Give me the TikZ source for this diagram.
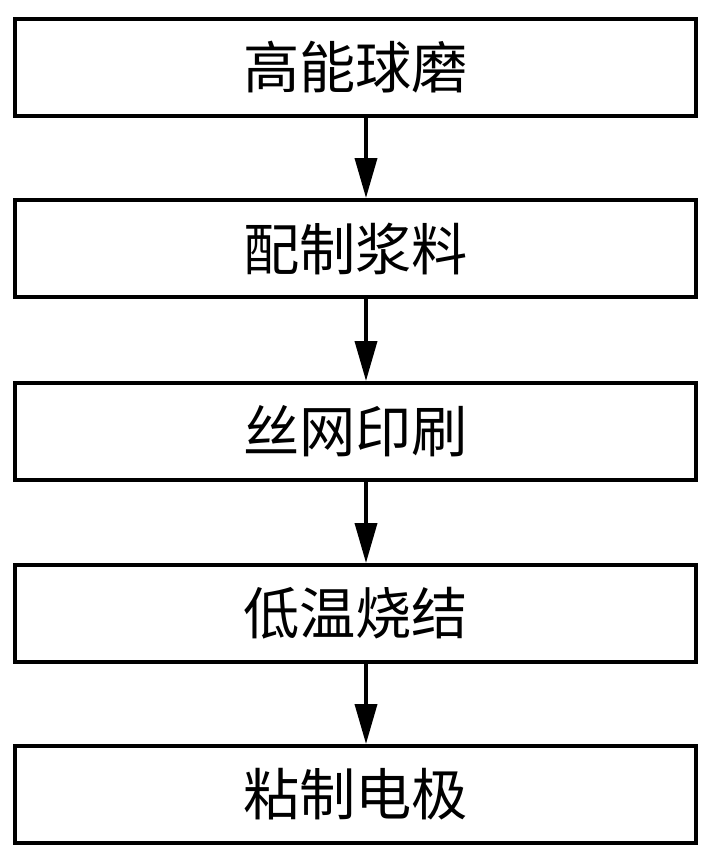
\documentclass[tikz,border=0pt]{standalone}
\usepackage{fontspec}
\newfontfamily\cjk{Noto Sans CJK SC}
\usetikzlibrary{arrows.meta}

\begin{document}
\begin{tikzpicture}[x=0.03cm, y=-0.03cm]
				\useasboundingbox (0,0) rectangle (706,855);
				\begin{scope}[every node/.style={draw, rectangle, line width=3.4pt, minimum width=681*0.03cm, minimum height=97*0.03cm, inner sep=0pt, font=\cjk\fontsize{48}{50}\selectfont}]
					\node (mill) at (355.5,67.5) {高能球磨};
					\node (slurry) at (355.5,248.5) {配制浆料};
					\node (print) at (355.5,431.5) {丝网印刷};
					\node (sinter) at (355.5,613.5) {低温烧结};
					\node (electrode) at (355.5,794.5) {粘制电极};
				\end{scope}
				\coordinate (ax) at (366,0);
				\begin{scope}[every edge/.style={draw, line width=3.2pt}]
					\path [-{Triangle[length=1.2cm, width=0.66cm]}] (mill.south -| ax) edge node {} (slurry.north -| ax);
					\path [-{Triangle[length=1.2cm, width=0.66cm]}] (slurry.south -| ax) edge node {} (print.north -| ax);
					\path [-{Triangle[length=1.2cm, width=0.66cm]}] (print.south -| ax) edge node {} (sinter.north -| ax);
					\path [-{Triangle[length=1.2cm, width=0.66cm]}] (sinter.south -| ax) edge node {} (electrode.north -| ax);

				\end{scope}
			\end{tikzpicture}
\end{document}
